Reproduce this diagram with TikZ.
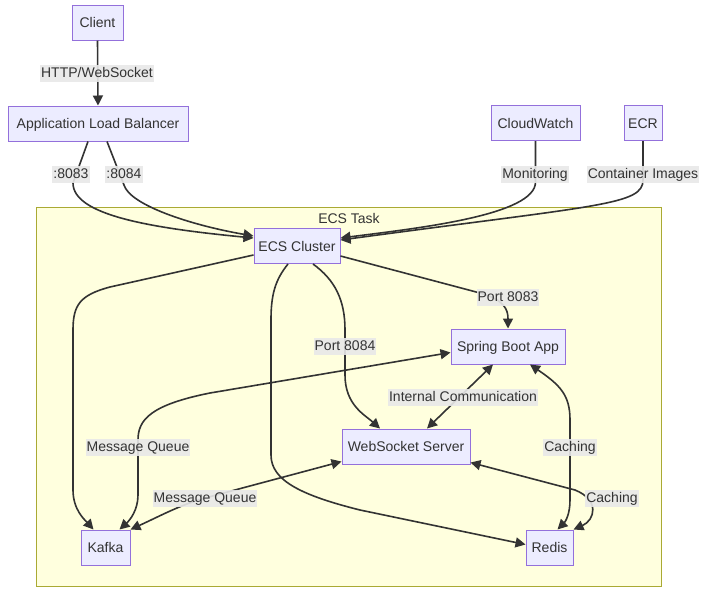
\documentclass[tikz,border=0pt]{standalone}
\usepackage{fontspec}
\setmainfont{Liberation Sans}
\usetikzlibrary{arrows.meta,calc}
\definecolor{nodefill}{HTML}{ECECFF}
\definecolor{nodeline}{HTML}{9370DB}
\definecolor{clusterfill}{HTML}{FFFFDE}
\definecolor{clusterline}{HTML}{AAAA33}
\definecolor{edgecol}{HTML}{333333}
\definecolor{labfill}{HTML}{E8E8E8}
\begin{document}
\begin{tikzpicture}[x=1pt,y=-1pt,
  font=\fontsize{14}{16}\selectfont,
  box/.style={draw=nodeline,fill=nodefill,line width=1pt,minimum height=35pt,inner sep=0pt,text=edgecol,text height=11pt,text depth=1pt},
  lab/.style={fill=labfill,fill opacity=0.9,text opacity=1,text=edgecol,inner xsep=1pt,inner ysep=2pt,text height=11pt,text depth=2pt},
  edge/.style={draw=edgecol,line width=1.6pt,-{Triangle[length=10pt,width=10pt]}},
  bedge/.style={draw=edgecol,line width=1.6pt,{Triangle[length=10pt,width=10pt]}-{Triangle[length=10pt,width=10pt]}}]
\useasboundingbox (0,0) rectangle (703,614);
\fill[white] (0,0) rectangle (703,614);
% cluster
\draw[fill=clusterfill,draw=clusterline,line width=1pt] (36,207) rectangle (661,586);
\node[text=edgecol] (tasklab) at (349,218) {ECS Task};
% nodes
\node[box,minimum width=51pt] (client) at (97.5,22.5) {Client};
\node[box,minimum width=180pt] (alb) at (98,123.5) {Application Load Balancer};
\node[box,minimum width=89pt] (cw) at (535.5,123) {CloudWatch};
\node[box,minimum width=38pt] (ecr) at (643,123) {ECR};
\node[box,minimum width=86pt] (ecs) at (297,246) {ECS Cluster};
\node[box,minimum width=114pt] (spring) at (508,346.5) {Spring Boot App};
\node[box,minimum width=128pt] (ws) at (406,446.5) {WebSocket Server};
\node[box,minimum width=49pt] (kafka) at (105.5,547.5) {Kafka};
\node[box,minimum width=47pt] (redis) at (549.5,547.5) {Redis};
% edges
\draw[edge] (client.south) -- (alb.north);
\draw[edge] ($(alb.south)+(-10,0)$) -- (73,183) .. controls (73,215) and (150,228) .. ($(ecs.west)+(0,-8)$);
\draw[edge] ($(alb.south)+(9,0)$) -- (124,185) .. controls (130,205) and (190,225) .. ($(ecs.west)+(0,-10)$);
\draw[edge] (cw.south) -- (535.5,182) .. controls (535.5,215) and (420,228) .. ($(ecs.east)+(0,-8)$);
\draw[edge] (ecr.south) -- (643,180) .. controls (643,205) and (600,205) .. ($(ecs.east)+(0,-6)$);
\draw[edge] ($(ecs.east)+(0,10)$) -- (480,293) .. controls (505,300) and (508,310) .. (spring.north);
\draw[edge] ($(ecs.south)+(16,0)$) .. controls (335,280) and (345,300) .. (345,330) -- (345,375) .. controls (345,405) and (365,415) .. ($(ws.north)+(-26,0)$);
\draw[edge] ($(ecs.west)+(0,9)$) -- (110,287) .. controls (80,295) and (73,305) .. (73,330) -- (73,490) .. controls (73,510) and (85,520) .. ($(kafka.north)+(-12,0)$);
\draw[edge] ($(ecs.south)+(-9,0)$) .. controls (275,280) and (271,295) .. (271,320) -- (271,455) .. controls (271,480) and (300,495) .. (360,510) -- ($(redis.west)+(0,-3)$);
\draw[bedge] ($(spring.west)+(0,6)$) -- (210,393) .. controls (150,405) and (138,420) .. (138,440) -- (138,495) .. controls (138,510) and (130,520) .. ($(kafka.north)+(14,0)$);
\draw[bedge] (kafka.north east) .. controls (160,516) and (180,505) .. (205,498) -- ($(ws.west)+(0,15)$);
\draw[bedge] ($(spring.south)+(-15,0)$) -- ($(ws.north)+(21,0)$);
\draw[bedge] ($(spring.south)+(22,0)$) .. controls (560,385) and (570,395) .. (570,420) -- (570,500) .. controls (570,515) and (565,522) .. ($(redis.north)+(8,0)$);
\draw[bedge] ($(ws.east)+(0,16)$) -- (575,490) .. controls (600,500) and (595,520) .. (redis.north east);
% labels
\node[lab] (l1) at (97,73) {HTTP/WebSocket};
\node[lab] (l2) at (71,174) {:8083};
\node[lab] (l3) at (124,174) {:8084};
\node[lab] (l4) at (535,174) {Monitoring};
\node[lab] (l5) at (643,174) {Container Images};
\node[lab] (l6) at (508,297) {Port 8083};
\node[lab] (l7) at (345,346) {Port 8084};
\node[lab] (l8) at (463,397) {Internal Communication};
\node[lab] (l9) at (138,447) {Message Queue};
\node[lab] (l10) at (205,498) {Message Queue};
\node[lab] (l11) at (570,447) {Caching};
\node[lab] (l12) at (612,498) {Caching};
\end{tikzpicture}
\end{document}
